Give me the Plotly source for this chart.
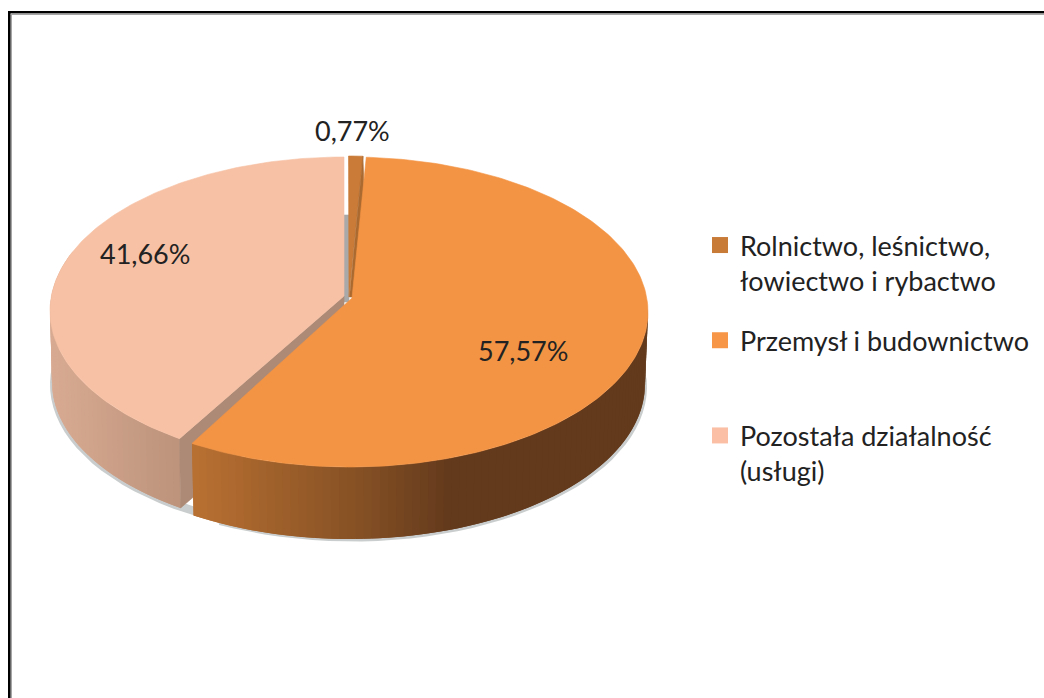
import math
import plotly.graph_objects as go

categories = ["Rolnictwo, leśnictwo,<br>łowiectwo i rybactwo",
              "Przemysł i budownictwo<br> ",
              "Pozostała działalność<br>(usługi)"]
shares = [0.77, 57.57, 41.66]
share_labels = ["0,77%", "57,57%", "41,66%"]

TOP = ["#c97b37", "#f39444", "#f6c1a5"]
LEG = ["#c87a37", "#f79646", "#fbbfa5"]
INNER = ["#ab6a30", "#a8652e", "#ad8a75"]
# per-slice projected ellipse: cx, cy, rx, ry, bottom cx, cy, rx, ry, apex y, rotation, angle warp
GEOM = [
    dict(cx=348.5, cy=310, rx=298, ry=154, bx=348.5, by=382, brx=293, bry=152, ay=297, rot=0, k=0),
    dict(cx=350, cy=312, rx=298, ry=155, bx=350, by=384, brx=295, bry=155, ay=298, rot=0.5, k=-3),
    dict(cx=344, cy=311, rx=294, ry=154, bx=344, by=382, brx=292, bry=152, ay=296, rot=0, k=-8),
]
ORANGE_GRAD = [(190, (186, 113, 50)), (360, (133, 80, 36)), (450, (99, 58, 28)), (660, (99, 58, 28))]
PEACH_GRAD = [(50, (216, 170, 146)), (185, (188, 146, 122))]


def grad(stops, x):
    if x <= stops[0][0]:
        c = stops[0][1]
    elif x >= stops[-1][0]:
        c = stops[-1][1]
    else:
        for (a, ca), (b, cb) in zip(stops, stops[1:]):
            if a <= x <= b:
                t = (x - a) / (b - a)
                c = tuple(ca[i] + (cb[i] - ca[i]) * t for i in range(3))
                break
    return "rgb(%d,%d,%d)" % tuple(round(v) for v in c)


def ang(deg, g):
    return math.radians(deg + g["rot"] + g["k"] * math.sin(math.radians(deg)))


def rim(deg, g, bottom=False):
    a = ang(deg, g)
    if bottom:
        return g["bx"] + g["brx"] * math.sin(a), g["by"] - g["bry"] * math.cos(a)
    return g["cx"] + g["rx"] * math.sin(a), g["cy"] - g["ry"] * math.cos(a)


def frange(a, b, step):
    n = max(1, int(round((b - a) / step)))
    return [a + (b - a) * i / n for i in range(n + 1)]


fig = go.Figure()


def poly(pts, color, line=True):
    fig.add_trace(go.Scatter(
        x=[p[0] for p in pts] + [pts[0][0]], y=[p[1] for p in pts] + [pts[0][1]],
        mode="lines", fill="toself", fillcolor=color,
        line=dict(color=color, width=0.6 if line else 0),
        hoverinfo="skip", showlegend=False))


def wall(ds, g, stops):
    # bands drawn so each one overlaps the next, hiding seams; order makes the later band win
    bands = list(zip(ds, ds[1:]))
    for j, (d0, d1) in enumerate(bands):
        d2 = bands[j + 1][1] if j + 1 < len(bands) else d1
        p0, p1 = rim(d0, g), rim(d1, g)
        pts = [rim(d, g) for d in (d0, d1, d2)] + [rim(d, g, True) for d in (d2, d1, d0)]
        poly(pts, grad(stops, (p0[0] + p1[0]) / 2), line=False)


starts = []
c = 0.0
for s in shares:
    starts.append(c)
    c += s
spans = [(starts[i] * 3.6, (starts[i] + shares[i]) * 3.6) for i in range(3)]

# soft shadow under the walls
for i, dx, lo, hi in ((2, -2.0, 205, 275), (1, 2.0, 90, 205)):
    g = GEOM[i]
    bot = [rim(d, g, True) for d in frange(lo, hi, 3)]
    poly([(x + dx, y + 2.5) for x, y in bot] + [(x, y - 6) for x, y in reversed(bot)],
         "rgba(150,155,155,0.5)", line=False)

# peach slice
g = GEOM[2]
a0, a1 = spans[2]
poly([(343.5, 215), (349, 215), (349, 302), (343.5, 302)], "#a9a9a9")
wall(list(reversed(frange(a0, 285, 1.5))), g, PEACH_GRAD)
poly([rim(a0, g), (g["cx"], g["ay"]), (g["cx"], g["ay"] + 72), rim(a0, g, True)], INNER[2])
poly([(g["cx"], g["ay"])] + [rim(d, g) for d in frange(a0, a1, 1)], TOP[2])

# sliver
g = GEOM[0]
a0, a1 = spans[0]
poly([(g["cx"] + 0.5, g["ay"])] + [rim(d, g) for d in frange(a0, a1, 0.5)], TOP[0])
poly([rim(a1, g), (g["cx"] + 1, g["ay"]), (g["cx"] + 6, g["ay"]), (rim(a1, g)[0] + 1, 185)], INNER[0])

# orange slice
g = GEOM[1]
a0, a1 = spans[1]
wall(frange(90, a1, 1.5), g, ORANGE_GRAD)
poly([(g["cx"] + 2, g["ay"])] + [rim(d, g) for d in frange(a0, a1, 1)], TOP[1])

# legend entries
for name, col in zip(categories, LEG):
    fig.add_trace(go.Scatter(x=[None], y=[None], mode="markers", name=name, legendgroup=name,
                             marker=dict(symbol="square", size=16, color=col)))

# value labels
label_pos = [(352, 130.5), (523, 350), (145, 253.5)]
for txt, (x, y) in zip(share_labels, label_pos):
    fig.add_annotation(x=x, y=y, text=txt, showarrow=False, xanchor="center", yanchor="middle",
                       font=dict(family="Lato", size=27, color="#222222"))

# frame
shapes = [
    dict(type="rect", x0=8, x1=1044, y0=11, y1=13.5, fillcolor="#000000", line_width=0, layer="above"),
    dict(type="rect", x0=8, x1=10.7, y0=11, y1=698, fillcolor="#000000", line_width=0, layer="above"),
    dict(type="rect", x0=10.7, x1=1044, y0=13.5, y1=15, fillcolor="#a6a6a6", line_width=0, layer="above"),
    dict(type="rect", x0=10.7, x1=12, y0=13.5, y1=698, fillcolor="#a6a6a6", line_width=0, layer="above"),
]

fig.update_layout(
    width=1044, height=698, margin=dict(l=0, r=0, t=0, b=0, autoexpand=False),
    paper_bgcolor="white", plot_bgcolor="white", shapes=shapes,
    font=dict(family="Lato", color="#222222"),
    xaxis=dict(range=[0, 1044], visible=False, fixedrange=True),
    yaxis=dict(range=[698, 0], visible=False, fixedrange=True),
    legend=dict(x=0.6705, y=0.6834, xanchor="left", yanchor="top", valign="top",
                font=dict(family="Lato", size=27, color="#222222"),
                tracegroupgap=22, bgcolor="rgba(0,0,0,0)", traceorder="grouped"),
)
fig.write_html("out.html", config={"displayModeBar": False},
               post_script="document.body.style.margin='0';document.documentElement.style.overflow='hidden';")
